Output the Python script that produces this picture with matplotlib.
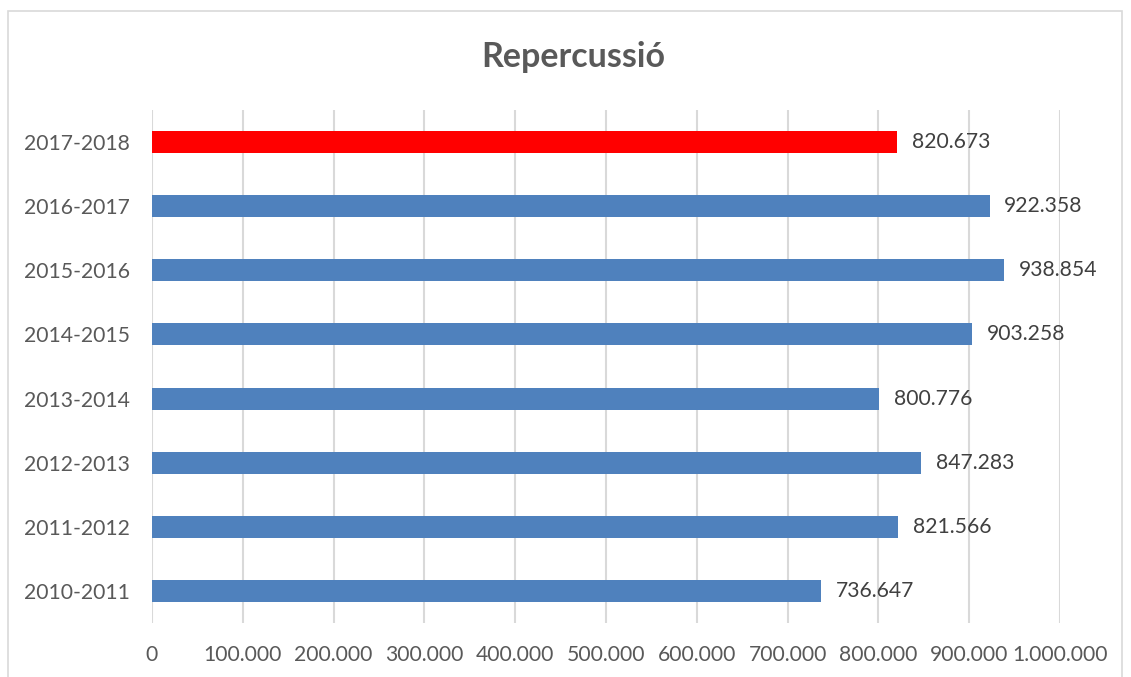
import matplotlib
matplotlib.use("Agg")
import matplotlib.pyplot as plt
from matplotlib.patches import Rectangle
from matplotlib.ticker import FuncFormatter

categories = ["2010-2011", "2011-2012", "2012-2013", "2013-2014",
              "2014-2015", "2015-2016", "2016-2017", "2017-2018"]
values = [736647, 821566, 847283, 800776, 903258, 938854, 922358, 820673]
colors = ["#4F81BD"] * 7 + ["#FF0000"]
xticks = list(range(0, 1000001, 100000))

plt.rcParams['font.family'] = ['Lato', 'DejaVu Sans']
W, H = 1131, 677
fig = plt.figure(figsize=(W / 100, H / 100), dpi=100)
ax = fig.add_axes([152 / W, 1 - 623 / H, (1060 - 152) / W, (623 - 110) / H])

def fmt(v, pos=None):
    return f"{int(v):,}".replace(",", ".")

y = list(range(len(categories)))
ax.barh(y, values, height=0.345, color=colors, zorder=3)
for yi, v in zip(y, values):
    ax.annotate(fmt(v), (v, yi), xytext=(10.5, 0), textcoords="offset points",
                va="center", ha="left", fontsize=15.2, color="#404040")

ax.set_xlim(0, 1000000)
ax.set_ylim(-0.5, len(categories) - 0.5)
ax.set_xticks(xticks)
ax.xaxis.set_major_formatter(FuncFormatter(fmt))
ax.set_yticks(y)
ax.set_yticklabels(categories)
ax.grid(axis="x", color="#D9D9D9", linewidth=1.5, zorder=0)
for s in ax.spines.values():
    s.set_visible(False)
ax.tick_params(axis="both", length=0, labelsize=15.2, labelcolor="#595959")
ax.tick_params(axis="y", pad=16)
ax.tick_params(axis="x", pad=16)

fig.text(573 / W, 1 - 57 / H, "Repercussió", ha="center", va="center",
         fontsize=24.5, fontweight="bold", color="#595959")

fig.patches.append(Rectangle((8 / W, -0.01), (1122 - 8) / W, 1 - 11 / H + 0.01,
                             transform=fig.transFigure, fill=False,
                             edgecolor="#D9D9D9", linewidth=1.2))

fig.savefig("out.png", dpi=100)
